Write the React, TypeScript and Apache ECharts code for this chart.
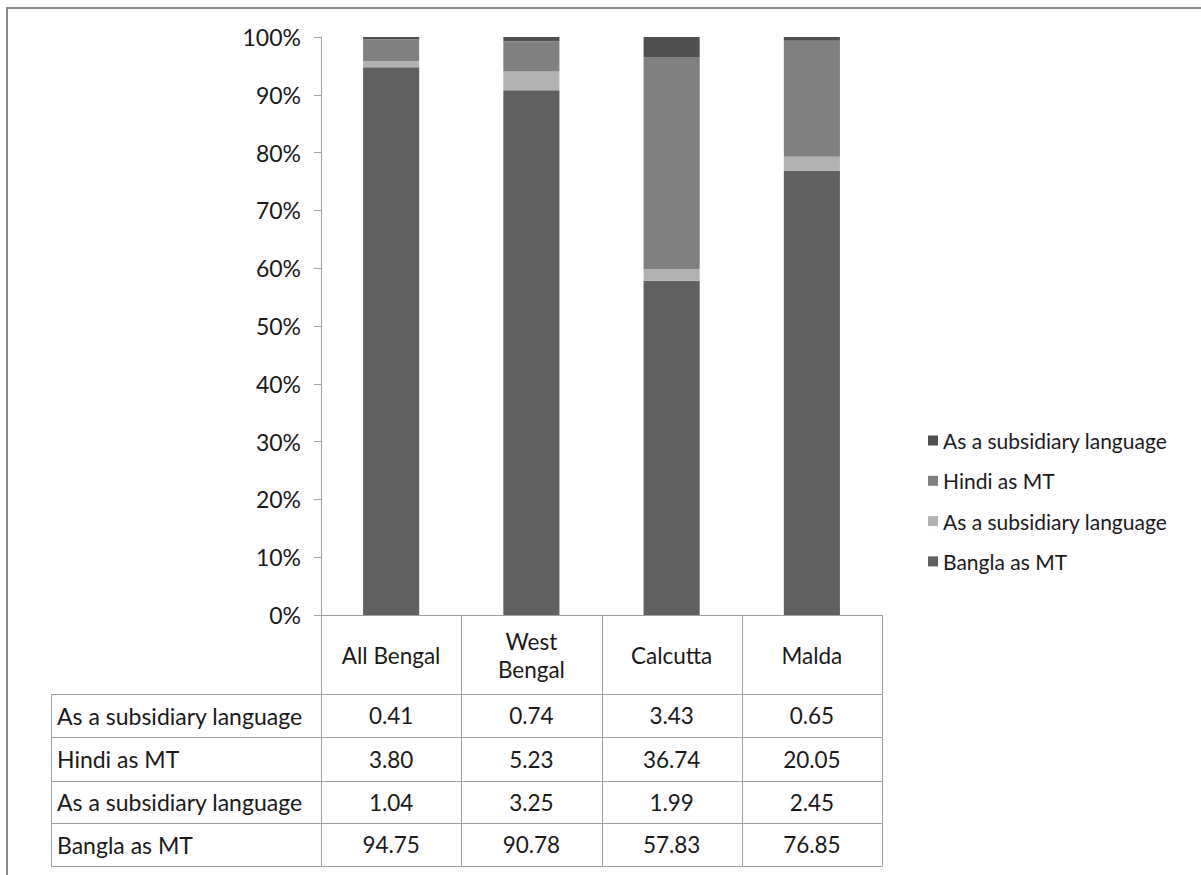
import React, { useEffect, useRef } from "react";
import * as echarts from "echarts";

// Districts shown along the x axis
const categories = ["All Bengal", "West\nBengal", "Calcutta", "Malda"];

// Stacked series, bottom to top
const seriesNames = [
  "Bangla as MT",
  "As a subsidiary language",
  "Hindi as MT",
  "As a subsidiary language ",
];
const banglaMT = [94.75, 90.78, 57.83, 76.85];
const banglaSubsidiary = [1.04, 3.25, 1.99, 2.45];
const hindiMT = [3.8, 5.23, 36.74, 20.05];
const hindiSubsidiary = [0.41, 0.74, 3.43, 0.65];
const seriesColors = ["#606060", "#b2b2b2", "#808080", "#505050"];

const yTicks = [0, 10, 20, 30, 40, 50, 60, 70, 80, 90, 100];

const FONT = "Lato, 'Noto Sans', sans-serif";

export default function App() {
  const ref = useRef<HTMLDivElement>(null);

  useEffect(() => {
    if (!ref.current) return;
    const chart = echarts.init(ref.current, null, { renderer: "svg" });

    const W = 1201;
    const H = 875;
    const gridLeft = 321;
    const gridRight = 882;
    const gridTop = 37;
    const gridBottom = 615;
    const colW = (gridRight - gridLeft) / categories.length;
    const tableLeft = 51;
    const rowEdges = [615, 694, 737, 781, 823, 866];
    const lineColor = "#a0a0a0";
    const textColor = "#1a1a1a";

    const values = [banglaMT, banglaSubsidiary, hindiMT, hindiSubsidiary];
    // Data table rows, top row first (reverse of stack order)
    const tableRows = [3, 2, 1, 0].map((i) => ({
      label: seriesNames[i].trim(),
      vals: values[i],
    }));

    const graphics: any[] = [];
    // Outer frame
    graphics.push({
      type: "rect",
      shape: { x: 7, y: 8, width: W + 20, height: H + 20 },
      style: { fill: "none", stroke: "#8a8a8a", lineWidth: 2 },
      silent: true,
    });
    // Vertical lines of the table (category columns)
    for (let c = 0; c <= categories.length; c++) {
      const x = Math.round(gridLeft + c * colW) + 0.5;
      graphics.push({
        type: "line",
        shape: { x1: x, y1: gridBottom, x2: x, y2: rowEdges[rowEdges.length - 1] },
        style: { stroke: lineColor, lineWidth: 1 },
        silent: true,
      });
    }
    // Left edge of the label column
    graphics.push({
      type: "line",
      shape: { x1: tableLeft + 0.5, y1: rowEdges[1], x2: tableLeft + 0.5, y2: rowEdges[rowEdges.length - 1] },
      style: { stroke: lineColor, lineWidth: 1 },
      silent: true,
    });
    // Horizontal row lines
    for (let r = 1; r < rowEdges.length; r++) {
      const y = rowEdges[r] + 0.5;
      graphics.push({
        type: "line",
        shape: { x1: tableLeft, y1: y, x2: gridRight + 0.5, y2: y },
        style: { stroke: lineColor, lineWidth: 1 },
        silent: true,
      });
    }
    // Row labels and values
    tableRows.forEach((row, r) => {
      const cy = (rowEdges[r + 1] + rowEdges[r + 2]) / 2;
      graphics.push({
        type: "text",
        x: tableLeft + 6,
        y: cy,
        style: {
          text: row.label,
          font: `23px ${FONT}`,
          fill: textColor,
          align: "left",
          verticalAlign: "middle",
        },
        silent: true,
      });
      row.vals.forEach((v, c) => {
        graphics.push({
          type: "text",
          x: gridLeft + (c + 0.5) * colW,
          y: cy,
          style: {
            text: v.toFixed(2),
            font: `22.5px ${FONT}`,
            fill: textColor,
            align: "center",
            verticalAlign: "middle",
          },
          silent: true,
        });
      });
    });

    chart.setOption({
      animation: false,
      backgroundColor: "#ffffff",
      textStyle: { fontFamily: FONT },
      grid: {
        left: gridLeft,
        top: gridTop,
        width: gridRight - gridLeft,
        height: gridBottom - gridTop,
        containLabel: false,
      },
      legend: {
        orient: "vertical",
        left: 923,
        top: 425,
        icon: "rect",
        itemWidth: 10,
        itemHeight: 10,
        itemGap: 19.3,
        data: [...seriesNames].reverse(),
        textStyle: { fontSize: 21, color: textColor, fontFamily: FONT, lineHeight: 21 },
        selectedMode: false,
      },
      xAxis: {
        type: "category",
        data: categories,
        axisLine: { show: true, lineStyle: { color: lineColor } },
        axisTick: { show: false },
        axisLabel: {
          margin: 40,
          verticalAlign: "middle",
          fontSize: 22.5,
          lineHeight: 28,
          color: textColor,
          fontFamily: FONT,
          interval: 0,
        },
      },
      yAxis: {
        type: "value",
        min: 0,
        max: 100,
        interval: 10,
        splitLine: { show: false },
        axisLine: { show: true, lineStyle: { color: lineColor } },
        axisTick: { show: true, length: 7, lineStyle: { color: lineColor } },
        axisLabel: {
          formatter: (v: number) => (yTicks.includes(v) ? `${v}%` : ""),
          fontSize: 23,
          color: textColor,
          margin: 20,
          fontFamily: FONT,
        },
      },
      series: seriesNames.map((name, i) => ({
        name,
        type: "bar",
        stack: "total",
        barWidth: "40%",
        data: values[i],
        itemStyle: { color: seriesColors[i] },
      })),
      graphic: graphics,
    });

    return () => chart.dispose();
  }, []);

  return <div ref={ref} style={{ width: 1201, height: 875, position: "absolute", left: 0, top: 0 }} />;
}
